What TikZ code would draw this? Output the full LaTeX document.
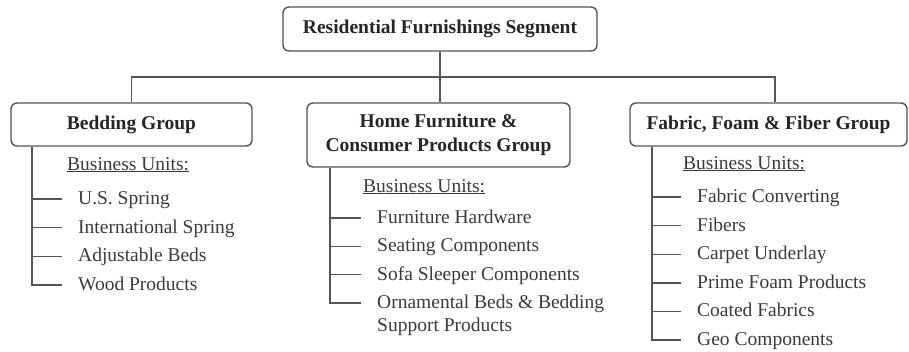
\documentclass[tikz,border=0pt]{standalone}
\usepackage{fontspec}
\setmainfont{Liberation Serif}
\definecolor{ln}{HTML}{555555}
\definecolor{tx}{HTML}{3A3A3A}
\definecolor{tb}{HTML}{262626}
\tikzset{
  box/.style={draw=ln, line width=1.4pt, rounded corners=6pt, fill=white,
    inner sep=0pt, align=center, text=tb,
    font=\bfseries\fontsize{19.5}{24}\selectfont},
  link/.style={draw=ln, line width=1.4pt},
  item/.style={anchor=base west, inner sep=0pt, text=tx,
    font=\fontsize{19.5}{23.4}\selectfont}
}
\begin{document}
\begin{tikzpicture}[x=1pt,y=1pt]
\useasboundingbox (0,0) rectangle (909,-351);
% boxes
\node[box, minimum width=314pt, minimum height=44pt] (top) at (440,-29) {Residential Furnishings Segment};
\node[box, minimum width=241pt, minimum height=43pt] (bed) at (131.5,-124.5) {Bedding Group};
\node[box, minimum width=263pt, minimum height=64pt] (home) at (438.5,-135) {Home Furniture \&\\Consumer Products Group};
\node[box, minimum width=277pt, minimum height=43pt] (fab) at (768.5,-124.5) {Fabric, Foam \& Fiber Group};
% bus
\coordinate (bl) at (132,-77);
\coordinate (br) at (775,-77);
\draw[link] (top.south) -- (top.south |- home.north);
\draw[link] (bed.north) -- (bed.north |- bl) -- (br) -- (br |- fab.north);
% Bedding units
\coordinate (bs) at (32,0);
\node[item] (bu) at (67,-170) {\underline{Business Units:}};
\node[item] (b1) at (78,-204.5) {U.S. Spring};
\node[item] (b2) at (78,-233.2) {International Spring};
\node[item] (b3) at (78,-261.8) {Adjustable Beds};
\node[item] (b4) at (78,-290.5) {Wood Products};
\draw[link] (bed.south -| bs) |- ([xshift=-16pt,yshift=5.5pt]b4.base west);
\foreach \n in {b1,b2,b3}
  \draw[link] ([yshift=5.5pt]\n.base west -| bs) -- ([xshift=-16pt,yshift=5.5pt]\n.base west);
% Home furniture units
\coordinate (hs) at (330,0);
\node[item] (hu) at (363,-192) {\underline{Business Units:}};
\node[item] (h1) at (377,-223.5) {Furniture Hardware};
\node[item] (h2) at (377,-251.8) {Seating Components};
\node[item] (h3) at (377,-280.2) {Sofa Sleeper Components};
\node[item] (h4) at (377,-308.5) {\begin{tabular}[t]{@{}l@{}}Ornamental Beds \& Bedding\\Support Products\end{tabular}};
\draw[link] (home.south -| hs) |- ([xshift=-16pt,yshift=5.5pt]h4.base west);
\foreach \n in {h1,h2,h3}
  \draw[link] ([yshift=5.5pt]\n.base west -| hs) -- ([xshift=-16pt,yshift=5.5pt]\n.base west);
% Fabric units
\coordinate (fs) at (652,0);
\node[item] (fu) at (683,-169) {\underline{Business Units:}};
\node[item] (f1) at (697,-202.5) {Fabric Converting};
\node[item] (f2) at (697,-231.1) {Fibers};
\node[item] (f3) at (697,-259.7) {Carpet Underlay};
\node[item] (f4) at (697,-288.3) {Prime Foam Products};
\node[item] (f5) at (697,-316.9) {Coated Fabrics};
\node[item] (f6) at (697,-345.5) {Geo Components};
\draw[link] (fab.south -| fs) |- ([xshift=-16pt,yshift=5.5pt]f6.base west);
\foreach \n in {f1,f2,f3,f4,f5}
  \draw[link] ([yshift=5.5pt]\n.base west -| fs) -- ([xshift=-16pt,yshift=5.5pt]\n.base west);
\end{tikzpicture}
\end{document}
